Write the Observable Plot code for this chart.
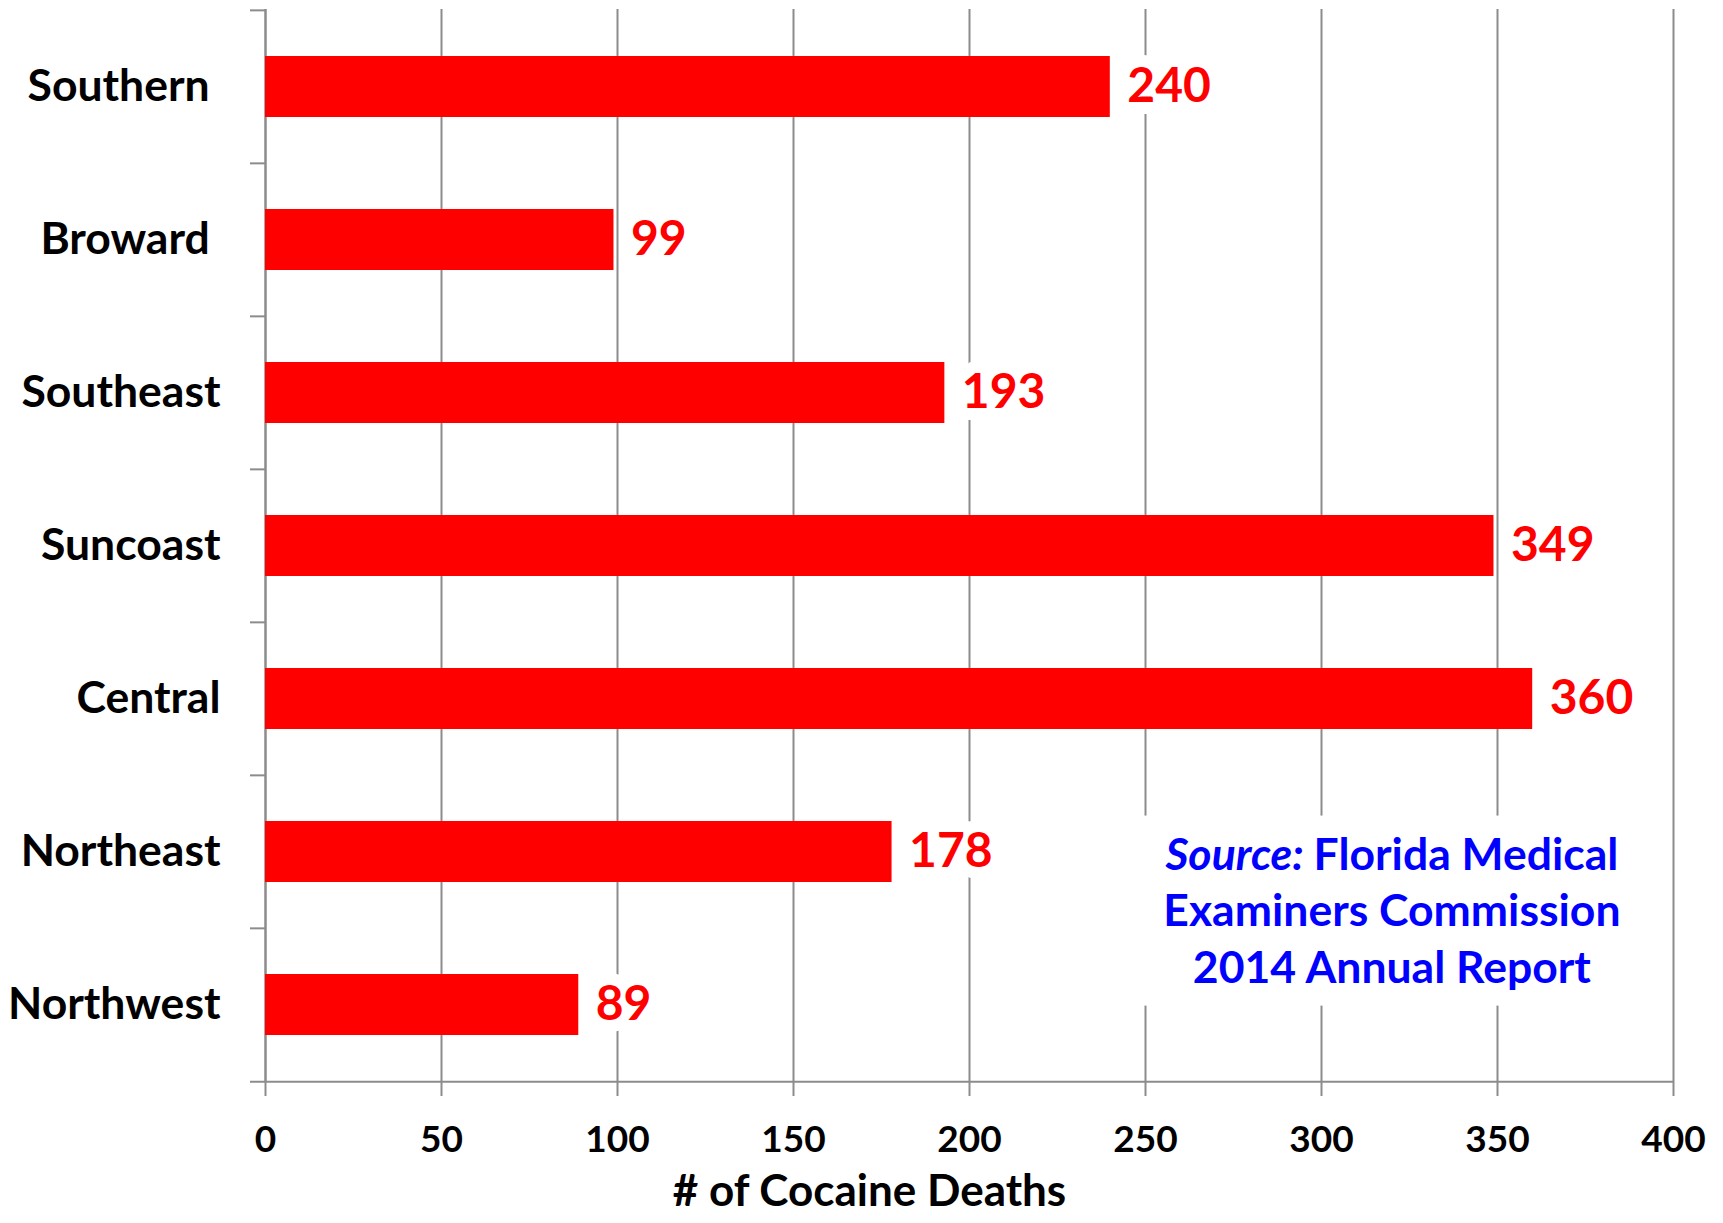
<!DOCTYPE html>
<html><head><meta charset="utf-8">
<script src="https://cdn.jsdelivr.net/npm/d3@7"></script>
<script src="https://cdn.jsdelivr.net/npm/@observablehq/plot@0.6"></script>
<style>html,body{margin:0;padding:0;background:#fff;} svg{display:block} svg text{white-space:pre}</style>
</head><body><div id="chart"></div>
<script>
const regions = ["Southern ", "Broward ", "Southeast", "Suncoast", "Central", "Northeast", "Northwest"];
const deaths = [240, 99, 193, 349, 360, 178, 89];
const xTicks = [0, 50, 100, 150, 200, 250, 300, 350, 400];
const xDomain = [0, 400];
const axisTitle = "# of Cocaine Deaths";
const sourceItalic = "Source:";
const sourceLines = ["Florida Medical", "Examiners Commission", "2014 Annual Report"];
const sourceAt = [{x: 320, region: "Northeast"}];

const data = regions.map((r, i) => ({region: r, value: deaths[i]}));
const W = 1723, H = 1223, mT = 9, mB = 141, mL = 265, mR = 50;
const step = (H - mT - mB) / regions.length;
const grid = "#8c8c8c";
const svgNS = "http://www.w3.org/2000/svg";

const chart = Plot.plot({
  width: W, height: H,
  marginTop: mT, marginBottom: mB, marginLeft: mL, marginRight: mR,
  style: {fontFamily: "Lato, sans-serif", background: "#fff", color: "#000"},
  x: {domain: xDomain, ticks: xTicks},
  y: {domain: regions, paddingInner: 0.6, paddingOuter: 0.3},
  marks: [
    Plot.gridX(xTicks, {stroke: grid, strokeOpacity: 1, strokeWidth: 2}),
    Plot.ruleY(regions, {y: d => d, x1: 0, x2: 0, dy: -step / 2, insetLeft: -15, stroke: grid, strokeWidth: 2}),
    Plot.ruleY([regions[regions.length - 1]], {y: d => d, x1: xDomain[0], x2: xDomain[1], dy: step / 2, insetLeft: -15, stroke: grid, strokeWidth: 2}),
    Plot.ruleX([0], {stroke: grid, strokeWidth: 2}),
    Plot.barX(data, {x: "value", y: "region", fill: "#ff0000"}),
    Plot.text(data, {x: "value", y: "region", text: d => String(d.value), dx: 17, textAnchor: "start",
      fill: "#ff0000", stroke: "#fff", strokeWidth: 24, strokeLinejoin: "round", paintOrder: "stroke",
      fontSize: 48, fontWeight: "bold"}),
    Plot.text(sourceAt, {x: "x", y: "region", text: () => sourceItalic + " " + sourceLines.join("\n"),
      lineAnchor: "middle", lineHeight: 1.27, dy: 56, fontSize: 44.5, fontWeight: "bold", fill: "#0000ff",
      className: "source-note",
      render(index, scales, values, dims, context, next) {
        const g = next(index, scales, values, dims, context);
        const first = g.querySelector("tspan");
        if (first) {
          first.textContent = "";
          const a = document.createElementNS(svgNS, "tspan");
          a.setAttribute("font-style", "italic");
          a.textContent = sourceItalic + " ";
          const b = document.createElementNS(svgNS, "tspan");
          b.textContent = sourceLines[0];
          first.appendChild(a);
          first.appendChild(b);
        }
        return g;
      }}),
    Plot.axisX({ticks: xTicks, tickSize: 14, tickPadding: 29, fontSize: 37, fontWeight: "bold",
      label: null, stroke: grid, strokeWidth: 2, fill: "#000"}),
    Plot.axisY({tickSize: 0, tickPadding: 45, fontSize: 44.5, fontWeight: "bold", label: null, fill: "#000"}),
    Plot.text([axisTitle], {frameAnchor: "bottom", text: d => d, dx: -100, dy: 123, fontSize: 44,
      fontWeight: "bold", fill: "#000"})
  ]
});
document.getElementById("chart").appendChild(chart);

// white text-box fill behind the source note (hides the gridlines, as in the original)
const srcText = chart.querySelector(".source-note text");
if (srcText) {
  const bb = srcText.getBBox();
  const rect = document.createElementNS(svgNS, "rect");
  rect.setAttribute("x", bb.x - 20);
  rect.setAttribute("y", bb.y - 10);
  rect.setAttribute("width", bb.width + 40);
  rect.setAttribute("height", bb.height + 24);
  rect.setAttribute("fill", "#fff");
  const t = srcText.getAttribute("transform");
  if (t) rect.setAttribute("transform", t);
  srcText.parentNode.insertBefore(rect, srcText);
}
</script>
</body></html>
